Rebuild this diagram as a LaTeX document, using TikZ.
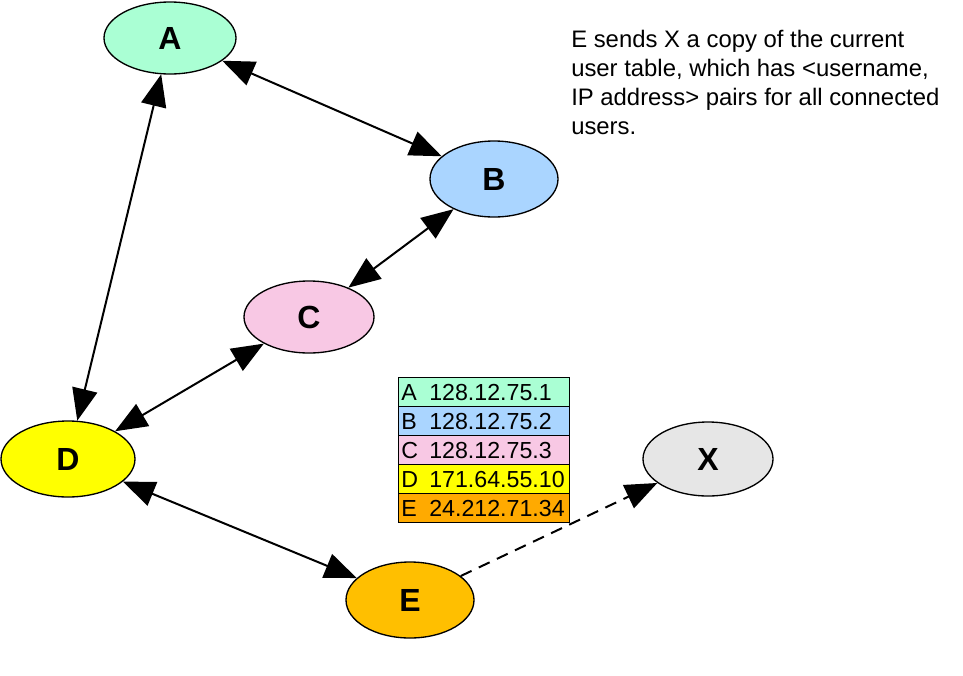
\documentclass[tikz,border=0pt]{standalone}
\usepackage{fontspec}
\setmainfont{Liberation Sans}
\usetikzlibrary{shapes.geometric,arrows.meta}
\definecolor{cA}{RGB}{170,255,212}
\definecolor{cB}{RGB}{170,213,255}
\definecolor{cC}{RGB}{248,200,228}
\definecolor{cD}{RGB}{255,255,0}
\definecolor{cE}{RGB}{255,191,0}
\definecolor{cEt}{RGB}{255,170,0}
\definecolor{cX}{RGB}{230,230,230}
\begin{document}
\begin{tikzpicture}[x=0.75pt,y=-0.75pt,
  peer/.style={ellipse, draw=black, line width=1pt, inner sep=0pt,
    font=\fontsize{24}{24}\selectfont\bfseries},
  link/.style={line width=1.5pt,
    {Triangle[length=24pt,width=19pt]}-{Triangle[length=24pt,width=19pt]}},
  sendlink/.style={line width=1.5pt, dash pattern=on 9pt off 6pt,
    -{Triangle[length=24pt,width=19pt]}},
  rowbox/.style={rectangle, draw=black, line width=0.6pt, inner sep=0pt,
    minimum width=128.25pt, minimum height=21.75pt},
  tabtext/.style={anchor=base west, inner sep=0pt,
    font=\fontsize{17.4}{17.4}\selectfont},
  note/.style={anchor=north west, inner sep=0pt, align=left,
    font=\fontsize{17.9}{21.75}\selectfont}]
\useasboundingbox (0,0) rectangle (963,675);
\fill[white] (0,0) rectangle (963,675);

% peers
\node[peer, fill=cA, minimum width=99pt, minimum height=54pt] (A) at (170,38) {A};
\node[peer, fill=cB, minimum width=96pt, minimum height=57pt] (B) at (494,179) {B};
\node[peer, fill=cC, minimum width=97.5pt, minimum height=54pt] (C) at (309,317) {C};
\node[peer, fill=cD, minimum width=100.5pt, minimum height=57pt] (D) at (68,459) {D};
\node[peer, fill=cE, minimum width=96pt, minimum height=57pt] (E) at (410,600) {E};
\node[peer, fill=cX, minimum width=97.5pt, minimum height=55.5pt] (X) at (708,459) {X};

% links
\draw[link] (A) -- (B);
\draw[link] (A) -- (D);
\draw[link] (B) -- (C);
\draw[link] (C) -- (D);
\draw[link] (D) -- (E);
\draw[sendlink] (E) -- (X);

% user table
\node[rowbox, fill=cA] (rA) at (484,391.5) {};
\node[rowbox, fill=cB] (rB) at (484,420.5) {};
\node[rowbox, fill=cC] (rC) at (484,449.5) {};
\node[rowbox, fill=cD] (rD) at (484,478.5) {};
\node[rowbox, fill=cEt] (rE) at (484,507.5) {};
\node[tabtext] (lA) at (401,400) {A};
\node[tabtext] (nA) at (429,400) {128.12.75.1};
\node[tabtext] (lB) at (401,429) {B};
\node[tabtext] (nB) at (429,429) {128.12.75.2};
\node[tabtext] (lC) at (401,458) {C};
\node[tabtext] (nC) at (429,458) {128.12.75.3};
\node[tabtext] (lD) at (401,487) {D};
\node[tabtext] (nD) at (429,487) {171.64.55.10};
\node[tabtext] (lE) at (401,516) {E};
\node[tabtext] (nE) at (429,516) {24.212.71.34};

% note
\node[note] (msg) at (571,30) {E sends X a copy of the current\\
user table, which has <username,\\
IP address> pairs for all connected\\
users.};
\end{tikzpicture}
\end{document}
